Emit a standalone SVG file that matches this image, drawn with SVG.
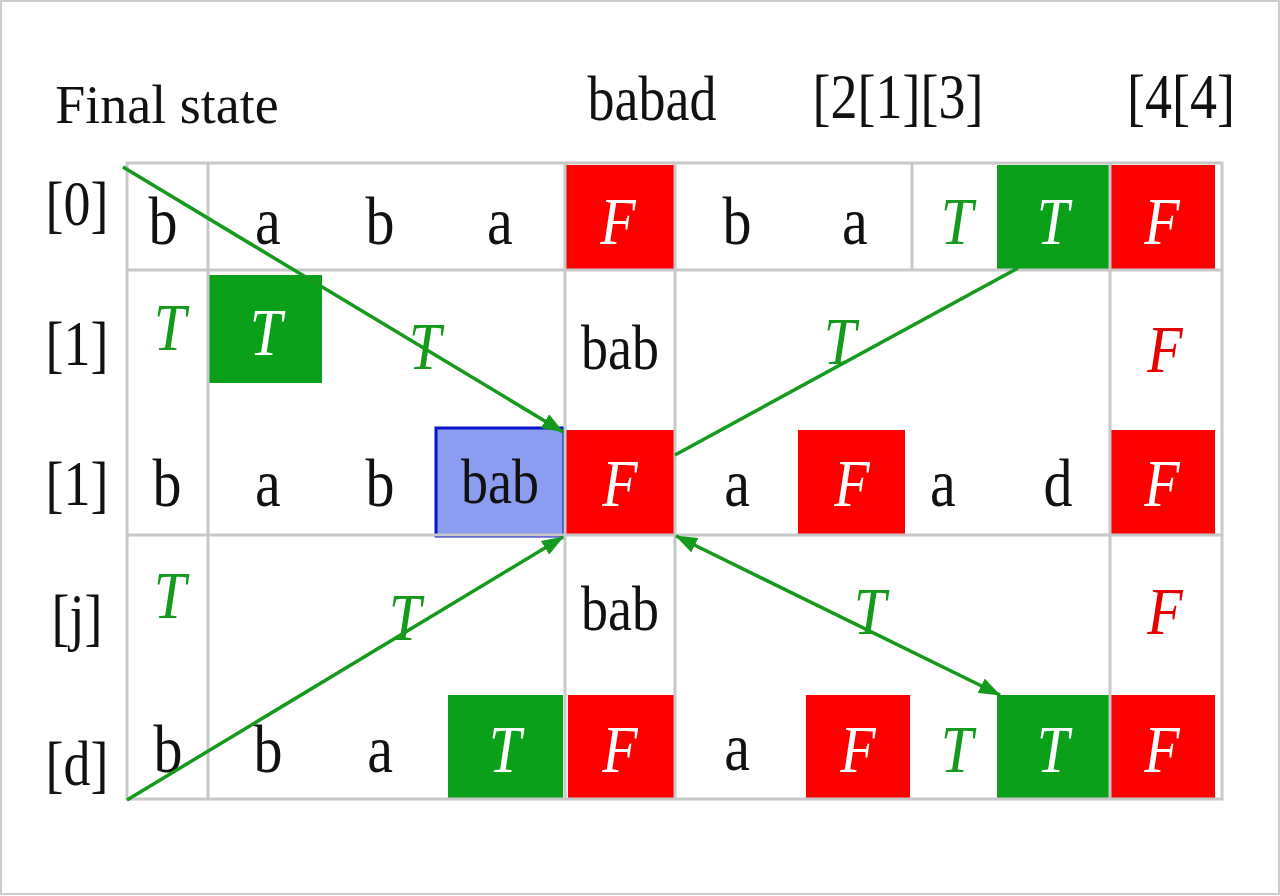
<svg xmlns="http://www.w3.org/2000/svg" width="1280" height="896" viewBox="0 0 1280 896">
<defs>
<style>
.t{font-family:"Liberation Serif","Times New Roman",serif;text-anchor:middle;transform-box:fill-box;transform-origin:center;transform:scaleY(1.18)}
.plain{transform:none}
.lbl{font-size:54px;fill:#111}
.c{font-size:58px;fill:#111}
.s{font-size:54px;fill:#111}
.i{font-style:italic;font-size:58px}
.g{fill:#169a1e}
.w{fill:#ffffff}
.r{fill:#e80000}
.grid{stroke:#c8c8c8;stroke-width:3;fill:none}
.red{fill:#ff0000}
.grn{fill:#0aa01a}
.blue{fill:#8c9cf0;stroke:#0a14c8;stroke-width:3}
.arr{stroke:#169a1e;stroke-width:3.5;fill:none}
</style>
<marker id="ah" viewBox="0 0 22 16" refX="21" refY="8" markerWidth="22" markerHeight="16" markerUnits="userSpaceOnUse" orient="auto-start-reverse">
<path d="M0,0 L22,8 L0,16 z" fill="#169a1e"/>
</marker>
</defs>
<rect x="0" y="0" width="1280" height="896" fill="#ffffff"/>
<rect x="1" y="1" width="1278" height="893" fill="none" stroke="#cccccc" stroke-width="2"/>

<g id="headers">
<text class="t lbl plain" x="167" y="123" font-size="57">Final state</text>
<text class="t lbl" x="652" y="117" font-size="60">babad</text>
<text class="t lbl" x="898" y="115">[2[1][3]</text>
<text class="t lbl" x="1181" y="115">[4[4]</text>
</g>

<g id="row-labels">
<text class="t lbl" x="77" y="222">[0]</text>
<text class="t lbl" x="77" y="362">[1]</text>
<text class="t lbl" x="77" y="502">[1]</text>
<text class="t lbl" x="77" y="635">[j]</text>
<text class="t lbl" x="77" y="782">[d]</text>
</g>

<g id="cell-fills">
<rect class="red" x="566" y="165" width="109" height="105"/>
<rect class="grn" x="997" y="165" width="113" height="105"/>
<rect class="red" x="1111" y="165" width="104" height="105"/>
<rect class="grn" x="209" y="275" width="113" height="108"/>
<rect class="blue" x="436" y="428" width="128" height="108"/>
<rect class="red" x="566" y="430" width="109" height="105"/>
<rect class="red" x="798" y="430" width="107" height="104"/>
<rect class="red" x="1111" y="430" width="104" height="105"/>
<rect class="grn" x="448" y="695" width="115" height="104"/>
<rect class="red" x="568" y="695" width="107" height="104"/>
<rect class="red" x="806" y="695" width="104" height="104"/>
<rect class="grn" x="997" y="695" width="113" height="104"/>
<rect class="red" x="1111" y="695" width="104" height="104"/>
</g>

<g id="grid">
<rect class="grid" x="127" y="163" width="1095" height="636"/>
<line class="grid" x1="127" y1="270" x2="1222" y2="270"/>
<line class="grid" x1="127" y1="535" x2="1222" y2="535"/>
<line class="grid" x1="208" y1="163" x2="208" y2="799"/>
<line class="grid" x1="565" y1="163" x2="565" y2="799"/>
<line class="grid" x1="675" y1="163" x2="675" y2="799"/>
<line class="grid" x1="1110" y1="163" x2="1110" y2="799"/>
<line class="grid" x1="912" y1="163" x2="912" y2="270"/>
</g>

<g id="row0">
<text class="t c" x="163" y="240">b</text>
<text class="t c" x="268" y="240">a</text>
<text class="t c" x="380" y="240">b</text>
<text class="t c" x="500" y="240">a</text>
<text class="t i w" x="618" y="240">F</text>
<text class="t c" x="737" y="240">b</text>
<text class="t c" x="855" y="240">a</text>
<text class="t i g" x="957" y="240">T</text>
<text class="t i w" x="1053" y="240">T</text>
<text class="t i w" x="1162" y="240">F</text>
</g>

<g id="row1">
<text class="t i g" x="170" y="346">T</text>
<text class="t i w" x="266" y="351">T</text>
<text class="t i g" x="425" y="365">T</text>
<text class="t s" x="620" y="366">bab</text>
<text class="t i g" x="840" y="360">T</text>
<text class="t i r" x="1165" y="368">F</text>
</g>

<g id="row2">
<text class="t c" x="167" y="502">b</text>
<text class="t c" x="268" y="502">a</text>
<text class="t c" x="380" y="502">b</text>
<text class="t s" x="500" y="500">bab</text>
<text class="t i w" x="620" y="502">F</text>
<text class="t c" x="737" y="502">a</text>
<text class="t i w" x="852" y="502">F</text>
<text class="t c" x="943" y="502">a</text>
<text class="t c" x="1058" y="502">d</text>
<text class="t i w" x="1162" y="502">F</text>
</g>

<g id="row3">
<text class="t i g" x="170" y="614">T</text>
<text class="t i g" x="405" y="636">T</text>
<text class="t s" x="620" y="627">bab</text>
<text class="t i g" x="870" y="630">T</text>
<text class="t i r" x="1165" y="630">F</text>
</g>

<g id="row4">
<text class="t c" x="168" y="768">b</text>
<text class="t c" x="268" y="768">b</text>
<text class="t c" x="380" y="768">a</text>
<text class="t i w" x="505" y="768">T</text>
<text class="t i w" x="620" y="768">F</text>
<text class="t c" x="737" y="766">a</text>
<text class="t i w" x="858" y="768">F</text>
<text class="t i g" x="957" y="768">T</text>
<text class="t i w" x="1053" y="768">T</text>
<text class="t i w" x="1162" y="768">F</text>
</g>

<g id="connectors">
<line class="arr" x1="123" y1="167" x2="563" y2="432" marker-end="url(#ah)"/>
<line class="arr" x1="1018" y1="268" x2="675" y2="455"/>
<line class="arr" x1="127" y1="800" x2="563" y2="537" marker-end="url(#ah)"/>
<line class="arr" x1="676" y1="536" x2="1000" y2="695" marker-start="url(#ah)" marker-end="url(#ah)"/>
</g>
</svg>
